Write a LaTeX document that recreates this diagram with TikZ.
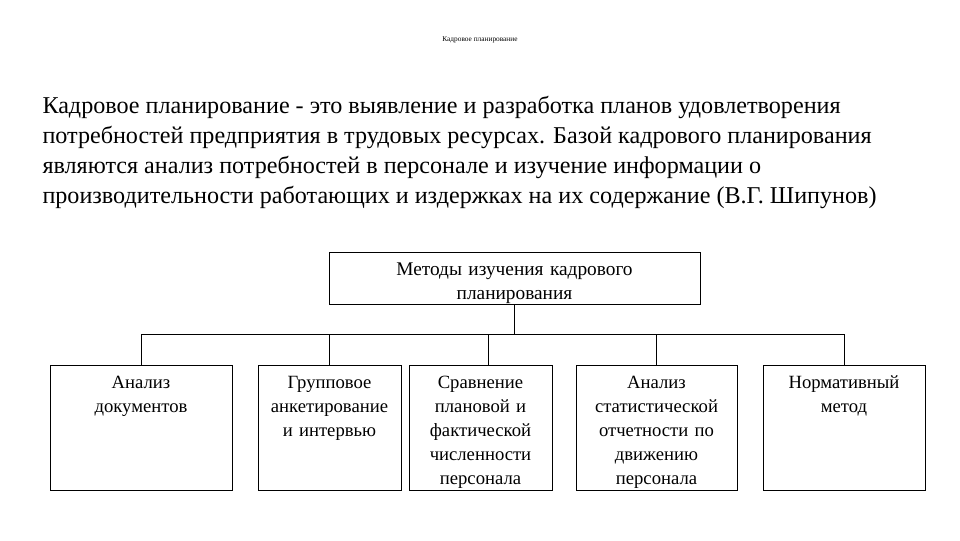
\documentclass[tikz,border=0pt]{standalone}
\usepackage{fontspec}
\setmainfont{Liberation Serif}
\usetikzlibrary{positioning, calc}

\begin{document}
\begin{tikzpicture}[
    x=0.75pt, y=-0.75pt,
    line width=0.75pt,
    heading/.style={font=\fontsize{5.5}{6}\selectfont},
    defn/.style={anchor=base west, align=left, inner sep=0pt,
                 font=\fontsize{18.1}{22.5}\selectfont},
    boxed/.style={draw, anchor=north, align=center, inner xsep=0pt, inner ysep=4.5pt,
                  text height=12.75pt, text width=#1, font=\fontsize{14}{18}\selectfont},
    topic/.style={boxed=278.25pt, text depth=17.25pt, font=\fontsize{14.5}{18}\selectfont},
    method/.style={boxed=#1, text depth=72pt}
]
    \useasboundingbox (0,0) rectangle (960,540);

    % Title and definition
    \node[heading] (title) at (480,40) {Кадровое планирование};
    \node[defn] (defn) at (42,203) {Кадровое планирование - это выявление и разработка планов удовлетворения\\
        потребностей предприятия в трудовых ресурсах. Базой кадрового планирования\\
        являются анализ потребностей в персонале и изучение информации о\\
        производительности работающих и издержках на их содержание (В.Г. Шипунов)};

    % Top box
    \node[topic] (top) at (514.5,252) {Методы изучения кадрового\\ планирования};

    % Methods
    \node[method=136.5pt]  (m1) at (141,365)   {Анализ\\ документов};
    \node[method=107.25pt] (m2) at (329.5,365) {Групповое\\ анкетирование\\ и интервью};
    \node[method=107.25pt] (m3) at (480.5,365) {Сравнение\\ плановой и\\ фактической\\ численности\\ персонала};
    \node[method=120.75pt] (m4) at (656.5,365) {Анализ\\ статистической\\ отчетности по\\ движению\\ персонала};
    \node[method=121.5pt]  (m5) at (844,365)   {Нормативный\\ метод};

    % Connectors
    \coordinate (bus) at (514,334);
    \coordinate (m3top) at (488,365);
    \draw (top.south) -- (top.south |- bus);
    \draw (m1.north |- bus) -- (m5.north |- bus);
    \foreach \m in {m1,m2,m3top,m4,m5}
        \draw (\m |- bus) -- (\m);
\end{tikzpicture}
\end{document}
